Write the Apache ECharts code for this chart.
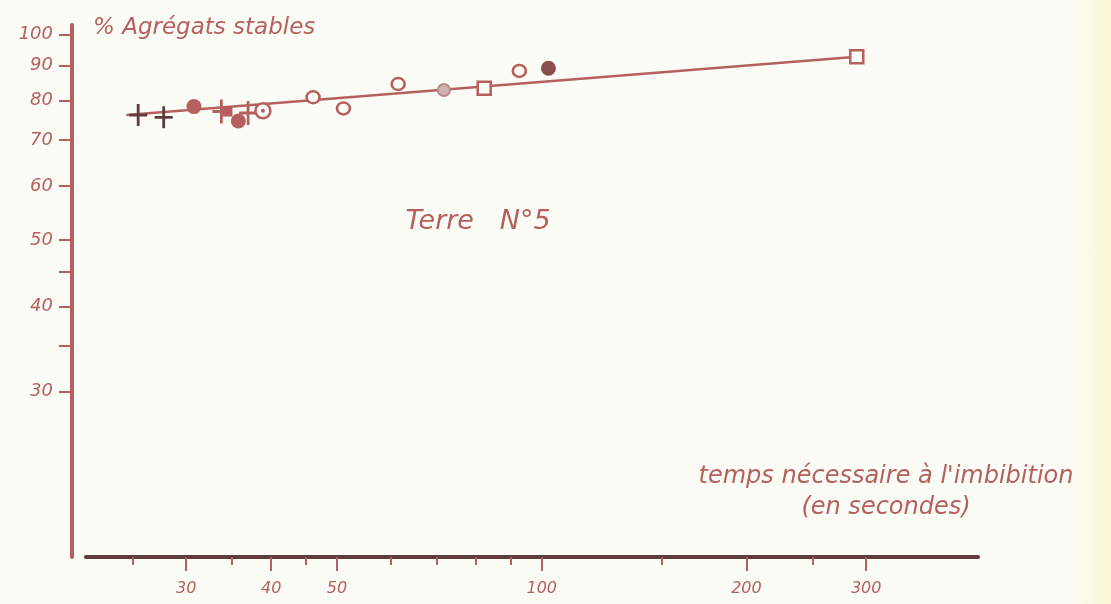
<!DOCTYPE html>
<html>
<head>
<meta charset="utf-8">
<script src="https://cdn.jsdelivr.net/npm/echarts@6/dist/echarts.min.js"></script>
<style>
html,body{margin:0;padding:0;}
body{background:linear-gradient(to right,#fcfcf7 0px,#fcfcf6 1065px,#fbf6d6 1111px);}
#chart{width:1111px;height:604px;}
</style>
</head>
<body>
<div id="chart"></div>
<script>
// ---- data ----
const xMajorTicks = [30, 40, 50, 100, 200, 300];
const xMinorTicks = [25, 35, 45, 60, 70, 80, 90, 150, 250];
const yLabelTicks = [30, 40, 50, 60, 70, 80, 90, 100];
const yAllTicks = [30, 35, 40, 45, 50, 60, 70, 80, 90, 100];

const fitLine = [[24.5, 76.2], [290.6, 92.7]];
const plusDark = [[25.5, 76.2], [27.8, 75.6]];
const plusRed = [[33.8, 77.1], [37.0, 76.7]];
const filledSquares = [[34.5, 77.1]];
const filledCirclesRed = [[30.8, 78.4], [35.8, 74.7]];
const filledCirclesDark = [[102.3, 89.2]];
const dottedCircles = [[38.9, 77.3]];
const openCircles = [[46.1, 80.9], [51.1, 77.9], [61.5, 84.6], [92.7, 88.4]];
const grayCircles = [[71.8, 82.9]];
const openSquares = [[82.3, 83.4], [290.6, 92.7]];

const titleY = '% Agrégats stables';
const titleX1 = "temps nécessaire à l'imbibition";
const titleX2 = '(en secondes)';
const chartLabel = 'Terre   N°5';

// ---- styling ----
const RED = '#b5605e';
const DARK = '#5e3c3c';
const BG = '#fcfcf7';
const FONT = 'DejaVu Sans';
const plusPath = 'path://M-1.4,-11 h2.8 v22 h-2.8 Z M-9,-1.4 h18 v2.8 h-18 Z';

const xMin = 21.37, xMax = 438.1, yMin = 17.19, yMax = 103.2;

const chart = echarts.init(document.getElementById('chart'), null, {renderer: 'canvas'});

const txt = (x, y, s, size, align) => ({
  type: 'text', x: x, y: y,
  style: {text: s, fill: RED, font: 'italic ' + size + 'px "' + FONT + '"', textAlign: align || 'left', textVerticalAlign: 'middle'}
});

chart.setOption({
  backgroundColor: 'transparent',
  animation: false,
  grid: {left: 86, right: 133, top: 25, bottom: 47},
  xAxis: [{
    type: 'log', min: xMin, max: xMax, position: 'bottom',
    axisLine: {show: true, lineStyle: {color: DARK, width: 4}},
    axisTick: {show: true, customValues: xMajorTicks, length: 14, lineStyle: {color: RED, width: 2}},
    axisLabel: {show: true, customValues: xMajorTicks, margin: 24, color: RED, fontSize: 16, fontFamily: FONT, fontStyle: 'italic'},
    splitLine: {show: false}, minorTick: {show: false}
  }, {
    type: 'log', min: xMin, max: xMax, position: 'bottom',
    axisLine: {show: false},
    axisTick: {show: true, customValues: xMinorTicks, length: 8, lineStyle: {color: RED, width: 2}},
    axisLabel: {show: false},
    splitLine: {show: false}
  }],
  yAxis: [{
    type: 'log', min: yMin, max: yMax, position: 'left', offset: 14,
    axisLine: {show: true, lineStyle: {color: RED, width: 4}},
    axisTick: {show: true, customValues: yAllTicks, length: 13, lineStyle: {color: RED, width: 2}},
    axisLabel: {show: true, customValues: yLabelTicks, margin: 19, color: RED, fontSize: 18, fontFamily: FONT, fontStyle: 'italic'},
    splitLine: {show: false}
  }],
  series: [
    {type: 'line', data: fitLine, showSymbol: false, symbol: 'none', lineStyle: {color: RED, width: 2.5}, z: 1},
    {type: 'scatter', data: plusDark, symbol: plusPath, symbolSize: [18, 22], itemStyle: {color: DARK, opacity: 1}, z: 3},
    {type: 'scatter', data: plusRed, symbol: plusPath, symbolSize: [18, 24], itemStyle: {color: RED, opacity: 1}, z: 3},
    {type: 'scatter', data: filledSquares, symbol: 'rect', symbolSize: 10, itemStyle: {color: RED, opacity: 1}, z: 3},
    {type: 'scatter', data: filledCirclesRed, symbol: 'circle', symbolSize: 15, itemStyle: {color: RED, opacity: 1}, z: 3},
    {type: 'scatter', data: filledCirclesDark, symbol: 'circle', symbolSize: 15, itemStyle: {color: '#8a4e4e', opacity: 1}, z: 3},
    {type: 'scatter', data: dottedCircles, symbol: 'circle', symbolSize: 15, itemStyle: {color: BG, borderColor: RED, borderWidth: 2.5, opacity: 1}, z: 3},
    {type: 'scatter', data: dottedCircles, symbol: 'circle', symbolSize: 4, itemStyle: {color: RED, opacity: 1}, z: 4},
    {type: 'scatter', data: openCircles, symbol: 'circle', symbolSize: [13, 12], itemStyle: {color: BG, borderColor: RED, borderWidth: 2.5, opacity: 1}, z: 3},
    {type: 'scatter', data: grayCircles, symbol: 'circle', symbolSize: 12, itemStyle: {color: '#cfb3b2', borderColor: '#b88a88', borderWidth: 2, opacity: 1}, z: 3},
    {type: 'scatter', data: openSquares, symbol: 'rect', symbolSize: 13, itemStyle: {color: BG, borderColor: RED, borderWidth: 2.5, opacity: 1}, z: 3}
  ],
  graphic: [
    txt(93, 28, titleY, 23, 'left'),
    txt(478, 222, chartLabel, 27, 'center'),
    txt(886, 477, titleX1, 24, 'center'),
    txt(886, 508, titleX2, 24, 'center')
  ]
});
</script>
</body>
</html>
